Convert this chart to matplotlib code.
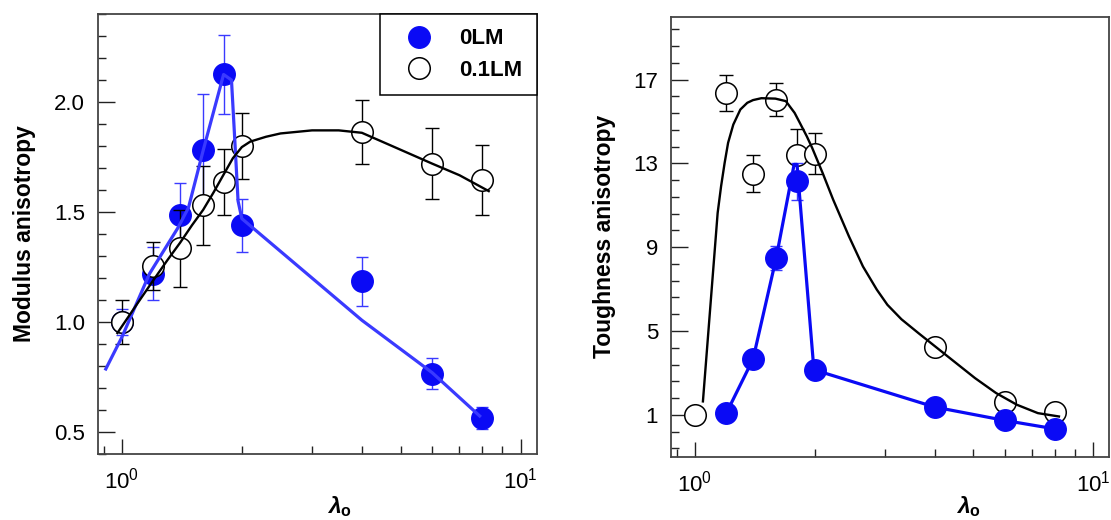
import numpy as np
import matplotlib
matplotlib.use("Agg")
import matplotlib.pyplot as plt
from matplotlib.ticker import LogLocator, NullFormatter, FixedLocator, MultipleLocator, FormatStrFormatter

plt.rcParams['font.family'] = ['Liberation Sans', 'DejaVu Sans']
plt.rcParams['mathtext.fontset'] = 'custom'
plt.rcParams['mathtext.rm'] = 'Liberation Sans'
plt.rcParams['mathtext.bf'] = 'Liberation Sans:bold'
plt.rcParams['mathtext.bfit'] = 'Liberation Sans:bold:italic'

# draw ratio values
lam = [1.0, 1.2, 1.4, 1.6, 1.8, 2.0, 4.0, 6.0, 8.0]

# modulus anisotropy
mod_0lm = [1.0, 1.22, 1.485, 1.78, 2.125, 1.44, 1.185, 0.765, 0.565]
mod_0lm_err = [0.06, 0.12, 0.145, 0.255, 0.18, 0.12, 0.11, 0.07, 0.05]
mod_01lm = [1.0, 1.255, 1.335, 1.53, 1.638, 1.80, 1.865, 1.72, 1.645]
mod_01lm_err = [0.10, 0.11, 0.175, 0.18, 0.15, 0.15, 0.145, 0.16, 0.16]

# fitted curves (modulus)
mod_fit_0lm_x = [0.908, 1.0, 1.174, 1.385, 1.47, 1.6, 1.8, 1.884, 1.92, 1.957, 2.0, 4.0, 6.0, 7.95]
mod_fit_0lm_y = [0.78, 0.93, 1.22, 1.43, 1.52, 1.78, 2.125, 2.10, 1.83, 1.55, 1.47, 1.008, 0.77, 0.568]
mod_fit_01lm_x = [0.975, 1.1, 1.2, 1.3, 1.4, 1.5, 1.6, 1.7, 1.8, 1.9, 2.0, 2.1, 2.3, 2.5,
                  3.0, 3.5, 4.0, 4.76, 6.0, 7.03, 8.32]
mod_fit_01lm_y = [0.95, 1.09, 1.19, 1.28, 1.36, 1.44, 1.51, 1.59, 1.67, 1.745, 1.795, 1.82, 1.842, 1.857,
                  1.871, 1.871, 1.86, 1.80, 1.72, 1.667, 1.595]

# toughness anisotropy
lam_t0 = [1.2, 1.4, 1.6, 1.8, 2.0, 4.0, 6.0, 8.0]
tough_0lm = [1.08, 3.66, 8.48, 12.14, 3.15, 1.37, 0.73, 0.33]
tough_0lm_err = [0, 0, 0.58, 0.9, 0, 0, 0, 0]
tough_01lm = [1.0, 16.36, 12.51, 16.04, 13.42, 13.47, 4.23, 1.61, 1.13]
tough_01lm_err = [0, 0.85, 0.87, 0.8, 1.2, 1.0, 0, 0, 0]

# fitted curves (toughness)
tough_fit_0lm_x = [1.2, 1.4, 1.6, 1.775, 1.805, 1.99, 4.0, 6.0, 8.0]
tough_fit_0lm_y = [1.08, 3.66, 8.48, 12.95, 12.95, 3.15, 1.37, 0.73, 0.33]
tough_fit_01lm_x = [1.048, 1.141, 1.164, 1.188, 1.212, 1.249, 1.301, 1.354, 1.40, 1.469, 1.593, 1.692,
                    1.78, 1.835, 1.91, 1.97, 2.093, 2.224, 2.436, 2.642, 2.863, 3.043, 3.30, 3.651,
                    4.0, 4.47, 5.05, 5.70, 6.43, 7.26, 8.2]
tough_fit_01lm_y = [1.64, 10.63, 11.91, 13.02, 13.98, 14.85, 15.57, 15.89, 16.02, 16.11, 16.09, 15.97,
                    15.41, 14.93, 14.29, 13.74, 12.54, 11.27, 9.52, 8.08, 6.97, 6.25, 5.56, 4.88,
                    4.28, 3.55, 2.75, 2.04, 1.48, 1.08, 0.92]

BLUE = '#0a0af5'
BLUE_LINE = '#3a3aff'
SPINE = '#444444'

fig = plt.figure(figsize=(11.11, 5.2), dpi=100)
ax1 = fig.add_axes([0.0879, 0.1269, 0.3951, 0.8462])
ax2 = fig.add_axes([0.6037, 0.1217, 0.3948, 0.8462])


def style_axis(ax):
    ax.set_xscale('log')
    ax.set_xlim(0.87, 10.97)
    ax.xaxis.set_major_locator(FixedLocator([1, 10]))
    ax.xaxis.set_minor_locator(LogLocator(base=10, subs=np.arange(2, 10)))
    ax.xaxis.set_minor_formatter(NullFormatter())
    ax.tick_params(which='both', direction='in', top=False, right=False, width=1.0, color='#222222')
    ax.tick_params(axis='x', which='major', length=11, pad=10, labelsize=16)
    ax.tick_params(axis='x', which='minor', length=6)
    ax.tick_params(axis='y', which='major', length=12, pad=9, labelsize=16)
    ax.tick_params(axis='y', which='minor', length=6)
    for s in ax.spines.values():
        s.set_color(SPINE)
        s.set_linewidth(1.3)
    ax.set_xlabel(r'$\mathbfit{\lambda}_{\mathbf{o}}$', fontsize=16.5)


# ---- left: modulus anisotropy
style_axis(ax1)
ax1.set_ylim(0.4, 2.4)
ax1.yaxis.set_major_locator(FixedLocator([0.5, 1.0, 1.5, 2.0]))
ax1.yaxis.set_major_formatter(FormatStrFormatter('%.1f'))
ax1.yaxis.set_minor_locator(MultipleLocator(0.1))

ax1.errorbar(lam, mod_0lm, yerr=mod_0lm_err, fmt='none', ecolor=BLUE_LINE, elinewidth=1.0,
             capsize=4, capthick=1.0, zorder=2)
ax1.plot(lam, mod_0lm, 'o', color=BLUE, ms=15.5, mec=BLUE, mew=1, zorder=2, label='0LM')
ax1.errorbar(lam, mod_01lm, yerr=mod_01lm_err, fmt='none', ecolor='black', elinewidth=1.0,
             capsize=5, capthick=1.0, zorder=3)
ax1.plot(lam, mod_01lm, 'o', mfc='white', mec='black', ms=15.5, mew=1.1, zorder=3, label='0.1LM')
ax1.plot(mod_fit_0lm_x, mod_fit_0lm_y, color=BLUE_LINE, lw=2.3, zorder=4, solid_capstyle='butt')
ax1.plot(mod_fit_01lm_x, mod_fit_01lm_y, color='black', lw=1.7, zorder=5)
ax1.set_ylabel('Modulus anisotropy', fontsize=16.5, fontweight='bold')
ax1.yaxis.set_label_coords(-0.1405, 0.5)
ax1.xaxis.set_label_coords(0.552, -0.092)

leg = ax1.legend(loc='upper right', borderaxespad=0, frameon=True, fancybox=False,
                 borderpad=0.65, handlelength=2.2, handletextpad=0.7, labelspacing=0.47,
                 prop={'weight': 'bold', 'size': 16})
leg.get_frame().set_edgecolor('black')
leg.get_frame().set_linewidth(1.1)
leg.get_frame().set_alpha(1)

# ---- right: toughness anisotropy
style_axis(ax2)
ax2.set_ylim(-1, 20)
ax2.yaxis.set_major_locator(FixedLocator([1, 5, 9, 13, 17]))
ax2.yaxis.set_minor_locator(MultipleLocator(0.8, offset=0.2))

ax2.errorbar(lam, tough_01lm, yerr=tough_01lm_err, fmt='none', ecolor='black', elinewidth=1.0,
             capsize=5, capthick=1.0, zorder=2)
ax2.plot(lam, tough_01lm, 'o', mfc='white', mec='black', ms=15.5, mew=1.1, zorder=2)
ax2.plot(tough_fit_01lm_x, tough_fit_01lm_y, color='black', lw=1.7, zorder=3)
ax2.errorbar(lam_t0, tough_0lm, yerr=tough_0lm_err, fmt='none', ecolor=BLUE_LINE, elinewidth=1.0,
             capsize=4, capthick=1.0, zorder=4)
ax2.plot(tough_fit_0lm_x, tough_fit_0lm_y, color=BLUE, lw=2.3, zorder=4)
ax2.plot(lam_t0, tough_0lm, 'o', color=BLUE, ms=15.5, mec=BLUE, mew=1, zorder=5)
ax2.set_ylabel('Toughness anisotropy', fontsize=16.5, fontweight='bold')
ax2.yaxis.set_label_coords(-0.1247, 0.5)
ax2.xaxis.set_label_coords(0.678, -0.086)

fig.savefig('out.png', dpi=100)
